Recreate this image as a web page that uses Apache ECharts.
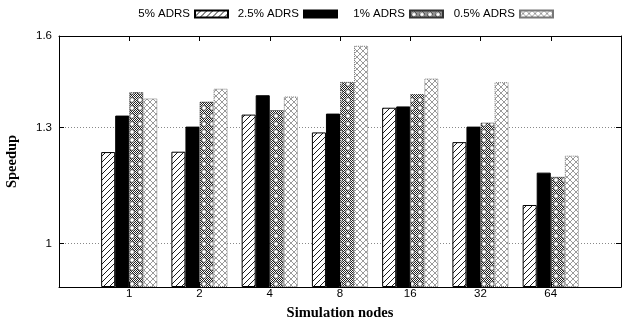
<!DOCTYPE html>
<html><head><meta charset="utf-8">
<script src="https://cdn.jsdelivr.net/npm/echarts@6/dist/echarts.min.js"></script>
<style>html,body{margin:0;padding:0;background:#fff}#c{width:623px;height:333px}</style>
</head><body><div id="c"></div>
<script>
const categories = ['1', '2', '4', '8', '16', '32', '64'];
const seriesNames = ['5% ADRS', '2.5% ADRS', '1% ADRS', '0.5% ADRS'];
const adrs5  = [1.230, 1.231, 1.339, 1.286, 1.360, 1.258, 1.091];
const adrs25 = [1.336, 1.303, 1.399, 1.342, 1.364, 1.303, 1.174];
const adrs1  = [1.409, 1.379, 1.353, 1.442, 1.403, 1.315, 1.163];
const adrs05 = [1.389, 1.420, 1.395, 1.565, 1.453, 1.441, 1.220];
const yTicks = [1, 1.3, 1.6];
const yGridLines = [1, 1.3];
const yMin = 0.906, yMax = 1.6;

function makeTile(w, h, draw) {
  const c = document.createElement('canvas');
  c.width = w; c.height = h;
  const g = c.getContext('2d');
  g.fillStyle = '#fff'; g.fillRect(0, 0, w, h);
  draw(g, w, h);
  return c;
}
const hatch = makeTile(6, 6, (g, w, h) => {
  g.strokeStyle = '#000'; g.lineWidth = 0.9; g.beginPath();
  for (const o of [-w, 0, w]) { g.moveTo(o, h); g.lineTo(o + w, 0); }
  g.stroke();
});
const dots = makeTile(8, 8, (g, w, h) => {
  g.fillStyle = '#222';
  for (let y = 0; y < h; y++) for (let x = 0; x < w; x++) if ((x + y) % 2 === 0) g.fillRect(x, y, 1, 1);
  g.fillStyle = '#fff'; g.beginPath(); g.arc(4, 4, 2.4, 0, 2 * Math.PI); g.fill();
  g.strokeStyle = '#333'; g.lineWidth = 0.8; g.stroke();
});
const xhatch = makeTile(6, 6, (g, w, h) => {
  g.strokeStyle = '#9a9a9a'; g.lineWidth = 1; g.beginPath();
  g.moveTo(0, 0); g.lineTo(w, h); g.moveTo(w, 0); g.lineTo(0, h); g.stroke();
});

const values = [adrs5, adrs25, adrs1, adrs05];
const fills = [{image: hatch, repeat: 'repeat'}, '#000', {image: dots, repeat: 'repeat'}, {image: xhatch, repeat: 'repeat'}];
const borderCols = ['#000', '#000', '#333', '#777'];
const borderTypes = ['solid', 'solid', 'dotted', 'dotted'];
const legendRight = [394, 285, 179, 69];
const xData = [''].concat(categories, ['']);
const tickFilter = (i) => i > 0 && i < xData.length - 1;
const sans = 'Liberation Sans';
const serif = 'Liberation Serif';

const chart = echarts.init(document.getElementById('c'), null, {renderer: 'canvas'});
chart.setOption({
  animation: false,
  backgroundColor: '#fff',
  grid: {left: 59, right: 2, top: 36, bottom: 46, containLabel: false, outerBoundsMode: 'none'},
  legend: seriesNames.map((n, i) => ({
    data: [n], right: legendRight[i], top: 8, padding: 0, align: 'right',
    itemWidth: 33, itemHeight: 7, icon: 'rect', selectedMode: false,
    textStyle: {fontFamily: sans, fontSize: 11.5, color: '#000'}
  })),
  xAxis: [{
    type: 'category', data: xData, boundaryGap: false, position: 'bottom', z: 3,
    axisLine: {lineStyle: {color: '#000', width: 1}},
    axisTick: {inside: true, length: 5, interval: tickFilter, lineStyle: {color: '#000'}},
    axisLabel: {interval: 0, margin: 1, fontSize: 11.5, color: '#000', fontFamily: sans},
    splitLine: {show: false},
    name: 'Simulation nodes', nameLocation: 'middle', nameGap: 19,
    nameTextStyle: {fontFamily: serif, fontWeight: 'bold', fontSize: 14.5, color: '#000'}
  }, {
    type: 'category', data: xData, boundaryGap: false, position: 'top',
    axisLine: {lineStyle: {color: '#000', width: 1}},
    axisTick: {inside: true, length: 5, interval: tickFilter, lineStyle: {color: '#000'}},
    axisLabel: {show: false}, splitLine: {show: false}
  }],
  yAxis: [{
    type: 'log', min: yMin, max: yMax, startValue: yMin, position: 'left',
    axisLine: {show: true, lineStyle: {color: '#000'}},
    axisTick: {show: true, inside: true, length: 5, customValues: yTicks, lineStyle: {color: '#000'}},
    axisLabel: {customValues: yTicks, margin: 7, fontSize: 11.5, color: '#000', fontFamily: sans,
      formatter: v => String(+(+v).toFixed(2))},
    splitLine: {show: false},
    name: 'Speedup', nameLocation: 'middle', nameGap: 39, nameRotate: 90,
    nameTextStyle: {fontFamily: serif, fontWeight: 'bold', fontSize: 14.5, color: '#000'}
  }, {
    type: 'log', min: yMin, max: yMax, position: 'right',
    axisLine: {show: true, lineStyle: {color: '#000'}},
    axisTick: {show: true, inside: true, length: 5, customValues: yGridLines, lineStyle: {color: '#000'}},
    axisLabel: {show: false},
    splitLine: {show: true, lineStyle: {color: '#888', type: [1, 2], width: 1}}
  }],
  series: values.map((vals, i) => ({
    name: seriesNames[i], type: 'bar', xAxisIndex: 0, yAxisIndex: 0,
    barWidth: '20%', barGap: '0%',
    data: [null].concat(vals, [null]),
    itemStyle: {color: fills[i], borderColor: borderCols[i], borderWidth: 1, borderType: borderTypes[i]},
    emphasis: {disabled: true}
  }))
});
</script>
</body></html>
